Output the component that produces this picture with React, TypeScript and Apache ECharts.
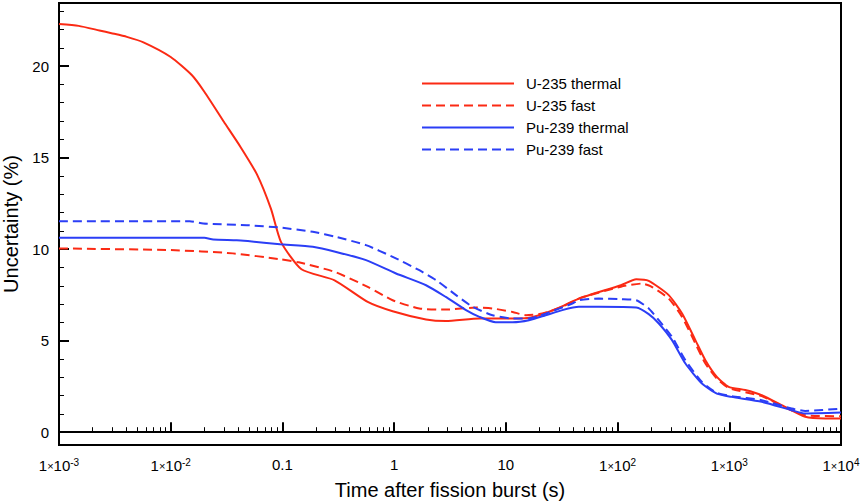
import React, { useEffect, useRef } from "react";
import * as echarts from "echarts";

// Time after fission burst (s) and uncertainty (%)
const u235ThermalT = [0.001, 0.0015, 0.0023, 0.00295, 0.00405, 0.0057, 0.01, 0.0155, 0.02, 0.03, 0.042, 0.059, 0.079, 0.097, 0.148, 0.293, 0.58, 0.97, 1.93, 2.9, 5.8, 10, 14.6, 19.8, 30, 45, 107, 147, 190, 287, 378, 497, 611, 774, 986, 1390, 1950, 3160, 4780, 7200, 10000];
const u235ThermalY = [22.3, 22.2, 21.95, 21.8, 21.6, 21.3, 20.5, 19.5, 18.6, 16.95, 15.6, 14.1, 12.2, 10.4, 8.9, 8.3, 7.12, 6.61, 6.16, 6.07, 6.21, 6.21, 6.22, 6.39, 6.8, 7.3, 8.03, 8.36, 8.27, 7.49, 6.48, 5.03, 3.93, 3.02, 2.48, 2.3, 2.02, 1.38, 0.84, 0.75, 0.75];

const u235FastT = [0.001, 0.01, 0.036, 0.095, 0.14, 0.293, 0.58, 0.97, 1.68, 2.9, 5.4, 7.6, 11.5, 15.1, 21.2, 32, 45, 107, 165, 197, 287, 378, 497, 611, 774, 986, 1950, 3160, 4780, 10000];
const u235FastY = [10.04, 9.95, 9.77, 9.45, 9.28, 8.76, 7.94, 7.21, 6.76, 6.7, 6.81, 6.76, 6.57, 6.39, 6.48, 6.85, 7.3, 7.95, 8.12, 7.98, 7.3, 6.3, 4.85, 3.75, 2.93, 2.42, 1.97, 1.35, 0.93, 0.87];

const pu239ThermalT = [0.001, 0.01, 0.02, 0.024, 0.039, 0.049, 0.095, 0.187, 0.303, 0.56, 1.04, 1.93, 2.9, 4.4, 5.8, 8.1, 11.5, 16.1, 22.7, 32, 45, 68, 147, 190, 234, 307, 405, 569, 774, 1047, 1950, 3620, 4780, 10000];
const pu239ThermalY = [10.62, 10.62, 10.62, 10.53, 10.49, 10.44, 10.27, 10.13, 9.85, 9.4, 8.67, 8.03, 7.39, 6.67, 6.3, 6.01, 6.01, 6.12, 6.39, 6.67, 6.85, 6.85, 6.81, 6.45, 5.94, 5.03, 3.75, 2.66, 2.11, 1.93, 1.66, 1.2, 1.02, 1.07];

const pu239FastT = [0.001, 0.0148, 0.0195, 0.048, 0.095, 0.187, 0.303, 0.56, 0.97, 1.68, 2.37, 3.58, 5.04, 7.6, 11.5, 16.1, 22.7, 39.4, 45, 68, 107, 147, 190, 234, 307, 405, 569, 774, 1047, 1950, 3620, 4780, 10000];
const pu239FastY = [11.53, 11.53, 11.4, 11.31, 11.18, 10.95, 10.67, 10.22, 9.58, 8.85, 8.31, 7.49, 6.85, 6.39, 6.21, 6.21, 6.48, 7.03, 7.21, 7.3, 7.27, 7.21, 6.76, 6.12, 5.21, 3.93, 2.75, 2.15, 1.97, 1.75, 1.29, 1.16, 1.29];

const seriesNames = ["U-235 thermal", "U-235 fast", "Pu-239 thermal", "Pu-239 fast"];
const yMajorTicks = [0, 5, 10, 15, 20];
const yMinorTicks = [0, 1, 2, 3, 4, 5, 6, 7, 8, 9, 10, 11, 12, 13, 14, 15, 16, 17, 18, 19, 20, 21, 22, 23];

const RED = "#fb2a14";
const BLUE = "#2b3ef6";
const FONT = "'Liberation Sans', Arial, Helvetica, sans-serif";

const pairs = (t: number[], y: number[]) => t.map((v, i) => [v, y[i]]);

function xLabel(v: number): string {
  const e = Math.round(Math.log10(v));
  if (e === -1) return "0.1";
  if (e === 0) return "1";
  if (e === 1) return "10";
  return "1{x|×}10{sup|" + e + "}";
}

export default function App() {
  const ref = useRef<HTMLDivElement>(null);
  useEffect(() => {
    document.body.style.margin = "0";
    const chart = echarts.init(ref.current!, null, { renderer: "svg" });
    const mk = (name: string, t: number[], y: number[], color: string, dashed: boolean) => ({
      name,
      type: "line",
      data: pairs(t, y),
      symbol: "none",
      smooth: 0.2,
      lineStyle: { color, width: 2, type: dashed ? [9, 5] : "solid" },
      itemStyle: { color },
    });
    chart.setOption({
      animation: false,
      textStyle: { fontFamily: FONT },
      grid: {
        left: 59,
        right: 24,
        top: 3,
        bottom: 58,
        outerBoundsMode: "none",
        containLabel: false,
        show: true,
        borderColor: "#000",
        borderWidth: 2,
        backgroundColor: "transparent",
      },
      legend: {
        orient: "vertical",
        left: 421,
        top: 76,
        padding: 0,
        itemWidth: 92,
        itemHeight: 14,
        itemGap: 7,
        data: seriesNames,
        itemStyle: { opacity: 0 },
        textStyle: { fontSize: 15, color: "#000", fontFamily: FONT, padding: [0, 0, 0, 7] },
      },
      xAxis: [
        {
          type: "log",
          logBase: 10,
          min: 0.001,
          max: 10000,
          interval: 1,
          position: "bottom",
          name: "Time after fission burst (s)",
          nameLocation: "middle",
          nameGap: 35,
          nameTextStyle: { fontSize: 20, color: "#000", fontFamily: FONT },
          axisLine: { show: true, lineStyle: { color: "#000", width: 2 } },
          axisTick: { show: true, inside: true, length: 10, lineStyle: { color: "#000", width: 2 } },
          minorTick: { show: true, splitNumber: 9, length: 5, lineStyle: { color: "#000", width: 1 } },
          splitLine: { show: false },
          minorSplitLine: { show: false },
          axisLabel: {
            margin: 12,
            fontSize: 15,
            color: "#000",
            fontFamily: FONT,
            formatter: xLabel,
            rich: {
              x: { fontSize: 11, color: "#000", fontFamily: FONT },
              sup: { fontSize: 10, color: "#000", fontFamily: FONT, verticalAlign: "top", padding: [0, 0, 7, 0] },
            },
          },
        },
      ],
      yAxis: [
        {
          type: "value",
          min: -0.7,
          max: 23.45,
          position: "left",
          name: "Uncertainty (%)",
          nameLocation: "middle",
          nameGap: 31,
          nameTextStyle: { fontSize: 20, color: "#000", fontFamily: FONT },
          axisLine: { show: true, lineStyle: { color: "#000", width: 2 } },
          axisTick: { show: true, inside: true, length: 10, customValues: yMajorTicks, lineStyle: { color: "#000", width: 2 } },
          axisLabel: { customValues: yMajorTicks, margin: 10, fontSize: 15, color: "#000", fontFamily: FONT },
          splitLine: { show: false },
        },
        {
          type: "value",
          min: -0.7,
          max: 23.45,
          position: "left",
          axisLine: { show: false },
          axisTick: { show: true, inside: true, length: 5, customValues: yMinorTicks, lineStyle: { color: "#000", width: 1 } },
          axisLabel: { show: false },
          splitLine: { show: false },
        },
      ],
      series: [
        mk(seriesNames[0], u235ThermalT, u235ThermalY, RED, false),
        mk(seriesNames[1], u235FastT, u235FastY, RED, true),
        mk(seriesNames[2], pu239ThermalT, pu239ThermalY, BLUE, false),
        mk(seriesNames[3], pu239FastT, pu239FastY, BLUE, true),
      ],
    });
    return () => chart.dispose();
  }, []);
  return <div ref={ref} style={{ position: "absolute", left: 0, top: 0, width: 865, height: 503 }} />;
}
